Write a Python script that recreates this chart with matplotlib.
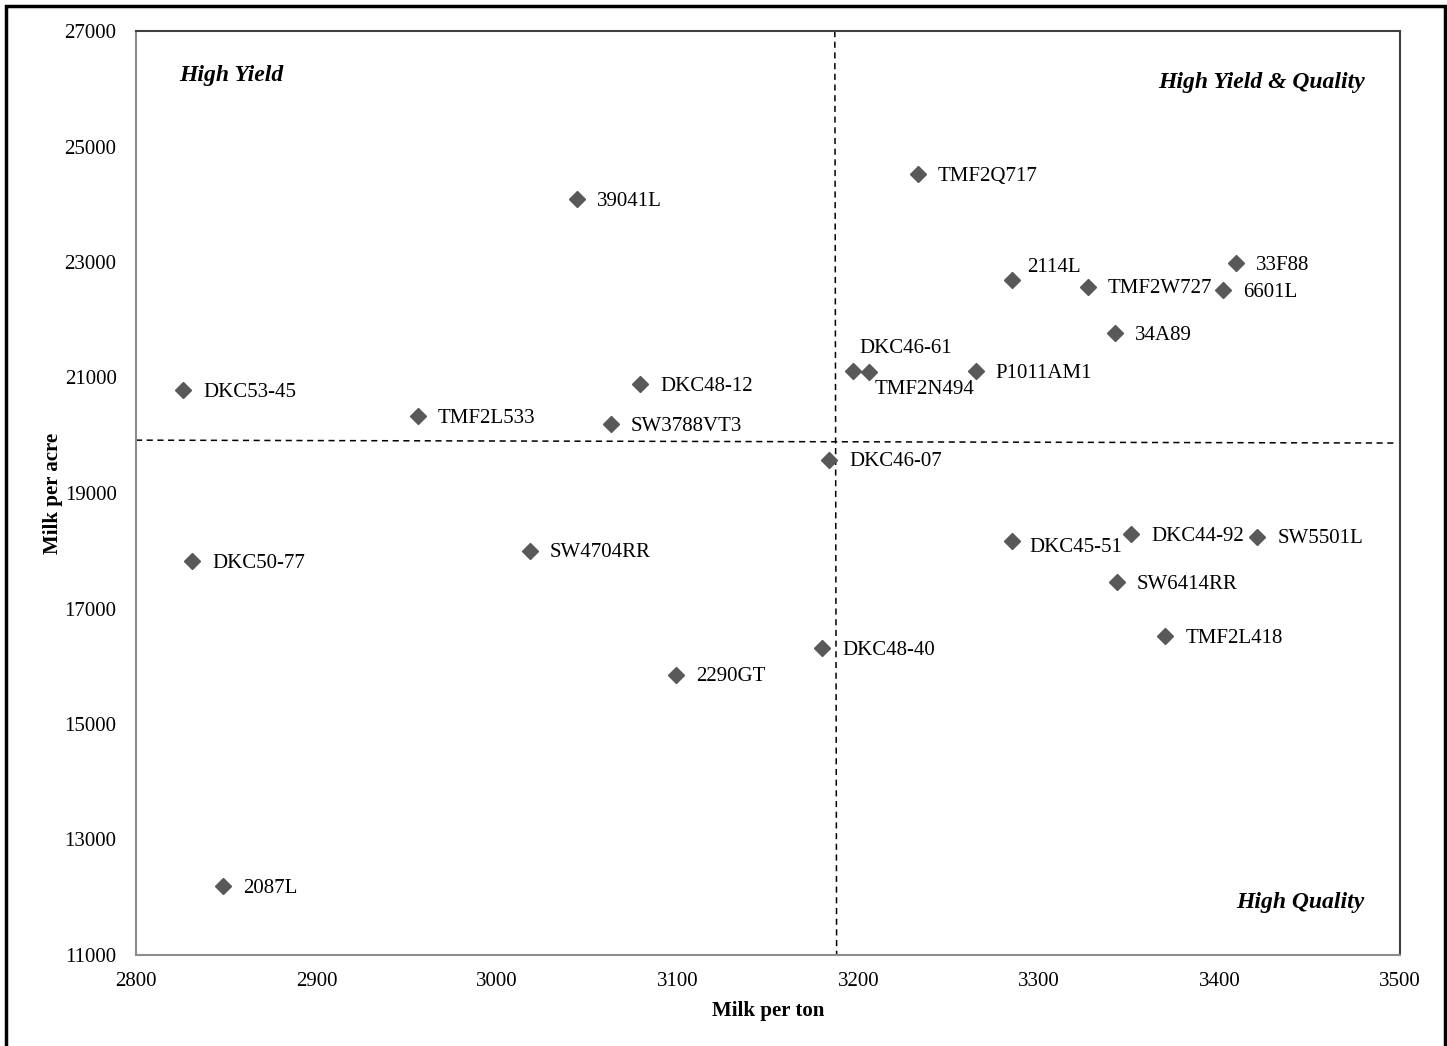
import matplotlib
matplotlib.use("Agg")
import matplotlib.pyplot as plt
from matplotlib.patches import Rectangle

plt.rcParams['font.family'] = ['Liberation Serif', 'DejaVu Serif']

# hybrids: milk per ton (x) and milk per acre (y)
hybrids = ["39041L", "TMF2Q717", "2114L", "TMF2W727", "33F88", "6601L", "34A89",
           "DKC46-61", "TMF2N494", "P1011AM1", "DKC53-45", "DKC48-12", "TMF2L533",
           "SW3788VT3", "DKC46-07", "DKC45-51", "DKC44-92", "SW5501L", "DKC50-77",
           "SW4704RR", "SW6414RR", "TMF2L418", "DKC48-40", "2290GT", "2087L"]
milk_per_ton = [3044, 3233, 3285, 3327, 3409, 3402, 3342,
                3197, 3206, 3265, 2826, 3079, 2956,
                3063, 3184, 3285, 3351, 3421, 2831,
                3018, 3343, 3370, 3180, 3099, 2848]
milk_per_acre = [24090, 24520, 22690, 22570, 22980, 22510, 21770,
                 21110, 21100, 21110, 20780, 20880, 20330,
                 20190, 19580, 18170, 18290, 18240, 17820,
                 18000, 17460, 16520, 16310, 15850, 12190]

# average lines
avg_ton = [3187, 3188]
avg_acre = [19915, 19865]

x_ticks = [2800, 2900, 3000, 3100, 3200, 3300, 3400, 3500]
y_ticks = [11000, 13000, 15000, 17000, 19000, 21000, 23000, 25000, 27000]

# label offsets in points (default to the right of the marker)
default_off = (14.5, -1.5)
special_off = {
    "2114L": (11, 9),
    "DKC46-61": (5, 16),
    "TMF2N494": (4, -13),
    "DKC45-51": (13, -4.5),
}

fig = plt.figure(figsize=(14.47, 10.46), dpi=100)
ax = fig.add_axes([136 / 1447, 91 / 1046, 1264 / 1447, 924 / 1046])

ax.plot(milk_per_ton, milk_per_acre, linestyle='none', marker='D',
        markersize=7.8, color='#595959', zorder=3)

for name, xv, yv in zip(hybrids, milk_per_ton, milk_per_acre):
    off = special_off.get(name, default_off)
    ax.annotate(name, (xv, yv), xytext=off, textcoords='offset points',
                ha='left', va='center', fontsize=15, color='black')

# dashed average lines
ax.plot(avg_ton, [27000, 11000], color='black', linestyle=(0, (4, 3)), linewidth=1.1, zorder=2)
ax.plot([2800, 3497], avg_acre, color='black', linestyle=(0, (4, 3)), linewidth=1.1, zorder=2)

ax.set_xlim(2800, 3500)
ax.set_ylim(11000, 27000)
ax.set_xticks(x_ticks)
ax.set_yticks(y_ticks)
ax.tick_params(length=0, labelsize=15)
ax.tick_params(axis='y', pad=14)
ax.tick_params(axis='x', pad=12)

for side in ['left', 'bottom']:
    ax.spines[side].set_color('#8c8c8c')
    ax.spines[side].set_linewidth(1.5)
for side in ['top', 'right']:
    ax.spines[side].set_color('#404040')
    ax.spines[side].set_linewidth(1.5)

# quadrant labels
qfont = dict(fontsize=17, fontweight='bold', fontstyle='italic', va='center')
ax.text(0.034, 0.952, "High Yield", transform=ax.transAxes, ha='left', **qfont)
ax.text(0.972, 0.944, "High Yield & Quality", transform=ax.transAxes, ha='right', **qfont)
ax.text(0.9715, 0.057, "High Quality", transform=ax.transAxes, ha='right', **qfont)

# axis titles
fig.text(768 / 1447, 1 - 1011 / 1046, "Milk per ton", fontsize=15, fontweight='bold',
         ha='center', va='center')
fig.text(53 / 1447, 1 - 493 / 1046, "Milk per acre", fontsize=15, fontweight='bold',
         ha='center', va='center', rotation=90)

# outer frame
fig.patches.append(Rectangle((6 / 1447, -0.02), 1439 / 1447, 1.02 - 6 / 1046,
                             transform=fig.transFigure, fill=False,
                             edgecolor='black', linewidth=2.5))

fig.savefig("out.png", dpi=100)
